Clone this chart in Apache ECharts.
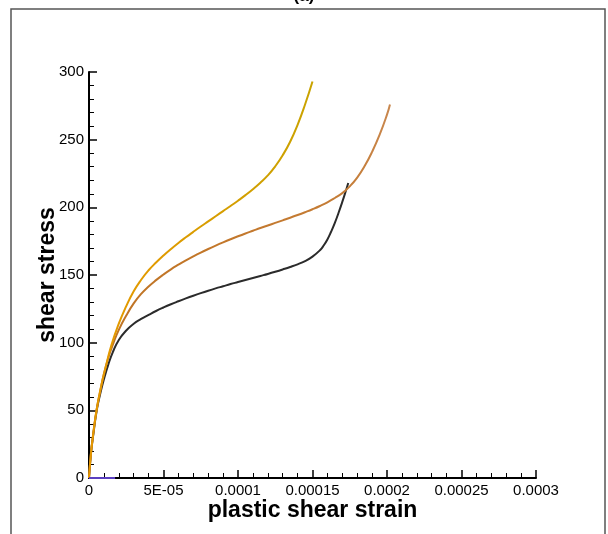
<!DOCTYPE html>
<html>
<head>
<meta charset="utf-8">
<script src="https://cdn.jsdelivr.net/npm/echarts@6/dist/echarts.min.js"></script>
<style>
html,body{margin:0;padding:0;background:#fff;}
#chart{width:608px;height:534px;}
</style>
</head>
<body>
<div id="chart"></div>
<script>
// x values (plastic shear strain, in units of 1e-5), y values (shear stress)
var yellowX = [0, 0.13, 0.3, 0.52, 0.8, 1.1, 1.5, 2, 2.5, 3, 3.5, 4, 4.5, 5, 5.5, 6, 6.5, 7, 7.5, 8, 8.5, 9, 9.5, 10, 10.5, 11, 11.5, 12, 12.5, 13, 13.5, 14, 14.5, 15];
var yellowY = [0, 18, 34, 51, 67, 81, 98, 114, 127, 138, 146.5, 153.5, 159.2, 164.4, 169.2, 173.7, 177.9, 181.9, 185.8, 189.6, 193.4, 197.2, 201.0, 204.9, 209.0, 213.4, 218.2, 223.6, 230.3, 238.5, 248.5, 261, 276, 293];

var orangeX = [0, 0.13, 0.3, 0.52, 0.75, 1.0, 1.3, 1.65, 2, 2.5, 3, 3.5, 4, 4.5, 5, 5.5, 6, 6.5, 7, 7.5, 8, 8.5, 9, 9.5, 10, 10.5, 11, 11.5, 12, 12.5, 13, 13.5, 14, 14.5, 15, 15.5, 16, 16.5, 17, 17.5, 18, 18.5, 19, 19.5, 20, 20.2];
var orangeY = [0, 18, 34, 51, 64, 77, 89, 100, 109.5, 120, 129, 136, 141.5, 146.2, 150.4, 154.2, 157.6, 160.8, 163.8, 166.6, 169.2, 171.7, 174.1, 176.4, 178.6, 180.7, 182.7, 184.7, 186.6, 188.5, 190.4, 192.3, 194.3, 196.4, 198.6, 201.0, 203.7, 206.9, 210.5, 215.5, 222, 230.5, 241, 253.5, 268.5, 276];

var blackX = [0, 0.13, 0.3, 0.52, 0.75, 1.0, 1.3, 1.6, 2, 2.5, 3, 3.5, 4, 4.5, 5, 5.5, 6, 6.5, 7, 7.5, 8, 8.5, 9, 9.5, 10, 10.5, 11, 11.5, 12, 12.5, 13, 13.5, 14, 14.5, 15, 15.5, 15.75, 16, 16.25, 16.5, 16.75, 17, 17.2, 17.4];
var blackY = [0, 18, 33, 50, 62, 73, 84, 93, 102, 109, 114, 117.5, 120.5, 123.4, 126.0, 128.4, 130.6, 132.7, 134.7, 136.6, 138.4, 140.1, 141.7, 143.3, 144.8, 146.3, 147.8, 149.3, 150.8, 152.4, 154.1, 155.9, 157.9, 160.3, 163.6, 168.3, 171.8, 176.3, 182, 188.5, 196, 204, 210.8, 218];

var blueX = [0, 1.75];
var blueY = [0, 0];
var xScale = 1e-5;

var xTickLabels = ['0', '5E-05', '0.0001', '0.00015', '0.0002', '0.00025', '0.0003'];
var yTickLabels = ['0', '50', '100', '150', '200', '250', '300'];

function pairs(xs, ys) { return xs.map(function (x, i) { return [x * xScale, ys[i]]; }); }

var chart = echarts.init(document.getElementById('chart'), null, {renderer: 'canvas'});
var font = 'Liberation Sans, Arial, sans-serif';
var option = {
  animation: false,
  backgroundColor: '#fff',
  grid: {left: 89, right: 72, top: 72, bottom: 56, containLabel: false},
  graphic: [
    {type: 'rect', shape: {x: 11, y: 9, width: 594, height: 540},
     style: {fill: 'none', stroke: '#555', lineWidth: 1.5}, z: 0},
    {type: 'text', left: 'center', top: -12,
     style: {text: '(a)', font: 'bold 17px ' + font, fill: '#000'}}
  ],
  xAxis: {
    type: 'value', min: 0, max: 0.0003, interval: 5e-5,
    name: 'plastic shear strain', nameLocation: 'middle', nameGap: 21, nameMoveOverlap: false,
    nameTextStyle: {fontFamily: font, fontSize: 23, fontWeight: 'bold', color: '#000', verticalAlign: 'top'},
    axisLine: {show: true, onZero: false, lineStyle: {color: '#000', width: 2}},
    axisTick: {show: true, inside: true, length: 8, lineStyle: {color: '#000', width: 1.5}},
    minorTick: {show: true, splitNumber: 5, length: 5, lineStyle: {color: '#000', width: 1}},
    splitLine: {show: false},
    axisLabel: {fontFamily: font, fontSize: 15, color: '#000', margin: 5,
      formatter: function (v) { return xTickLabels[Math.round(v / 5e-5)]; }}
  },
  yAxis: {
    type: 'value', min: 0, max: 300, interval: 50,
    name: 'shear stress', nameLocation: 'middle', nameGap: 30, nameMoveOverlap: false,
    nameTextStyle: {fontFamily: font, fontSize: 23, fontWeight: 'bold', color: '#000'},
    axisLine: {show: true, onZero: false, lineStyle: {color: '#000', width: 2}},
    axisTick: {show: true, inside: true, length: 8, lineStyle: {color: '#000', width: 1.5}},
    minorTick: {show: true, splitNumber: 5, length: 5, lineStyle: {color: '#000', width: 1}},
    splitLine: {show: false},
    axisLabel: {fontFamily: font, fontSize: 15, color: '#000', margin: 5,
      formatter: function (v) { return yTickLabels[Math.round(v / 50)]; }}
  },
  series: [
    {type: 'line', data: pairs(blackX, blackY), showSymbol: false, smooth: 0.5, smoothConstraint: false,
     lineStyle: {color: '#2b2b2b', width: 2}, z: 3},
    {type: 'line', data: pairs(orangeX, orangeY), showSymbol: false, smooth: 0.5, smoothConstraint: false,
     lineStyle: {color: new echarts.graphic.LinearGradient(0, 1, 0, 0, [
       {offset: 0, color: '#b8701f'}, {offset: 0.6, color: '#c27628'}, {offset: 1, color: '#c98850'}]), width: 2}, z: 4},
    {type: 'line', data: pairs(yellowX, yellowY), showSymbol: false, smooth: 0.5, smoothConstraint: false,
     lineStyle: {color: new echarts.graphic.LinearGradient(0, 1, 0, 0, [
       {offset: 0, color: '#e89800'}, {offset: 0.55, color: '#e09a00'}, {offset: 0.75, color: '#cfa000'}, {offset: 1, color: '#c9a300'}]), width: 2}, z: 5},
    {type: 'line', data: pairs(blueX, blueY), showSymbol: false,
     lineStyle: {color: '#5a3fc0', width: 2}, z: 6}
  ]
};
chart.setOption(option);
</script>
</body>
</html>
